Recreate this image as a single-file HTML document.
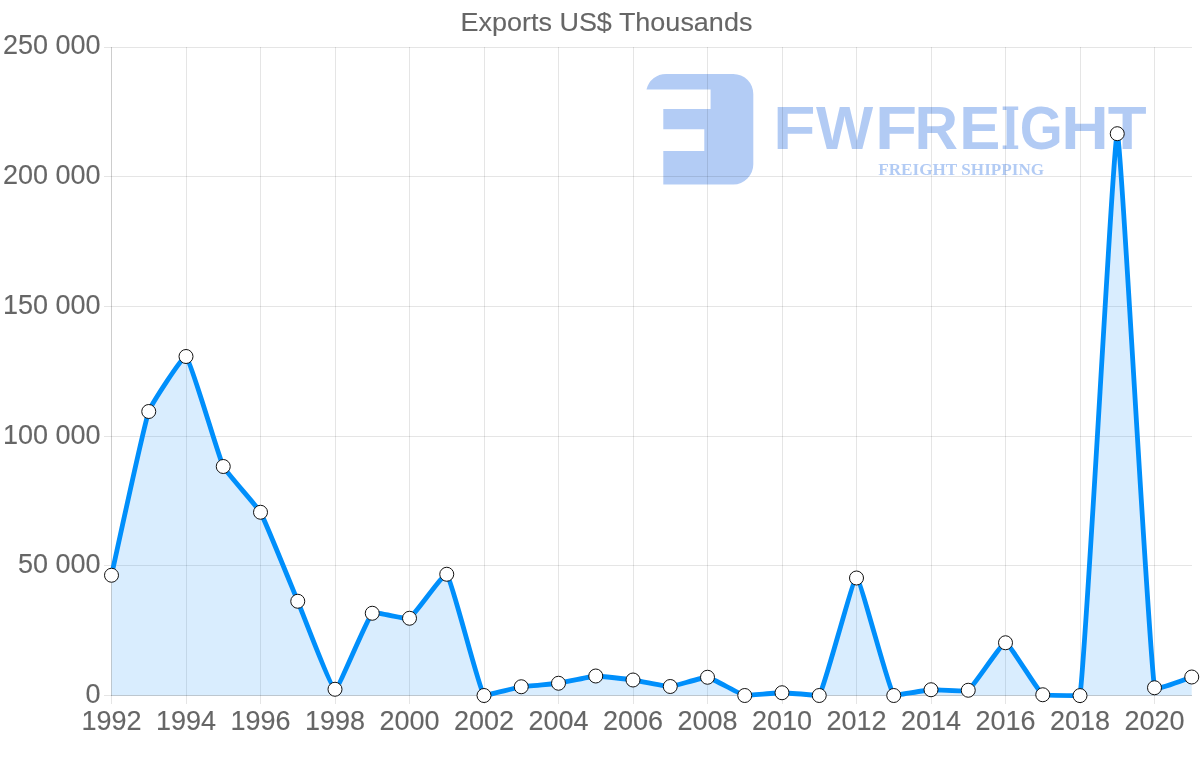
<!DOCTYPE html>
<html lang="en"><head><meta charset="utf-8"><title>Exports US$ Thousands</title>
<style>
html,body{margin:0;padding:0;background:#fff;}
body{width:1200px;height:763px;overflow:hidden;font-family:"Liberation Sans",Arial,sans-serif;}
svg{display:block;}
.lbl{font-family:"Liberation Sans",Arial,sans-serif;font-size:27px;fill:#666;stroke:#666;stroke-width:0.12px;}
.logo{font-family:"Liberation Sans",Arial,sans-serif;font-weight:bold;font-size:100px;}
.sub{font-family:"Liberation Serif","Times New Roman",serif;font-weight:bold;font-size:18px;}
</style></head><body>
<svg width="1200" height="763" viewBox="0 0 1200 763">
<rect width="1200" height="763" fill="#fff"/>

<g fill="#3878e4" opacity="0.38">
<path d="M646.5,89.5 A20,20 0 0 1 666,74 H733.3 A20,20 0 0 1 753.3,94 V164.4 A20,20 0 0 1 733.3,184.4 H663.3 V151.1 H704.3 V129.3 H663.3 V109 H710.6 V89.5 Z"/>
<text class="logo" y="149.00" style="font-size:61.19px"><tspan x="773.09" textLength="42.56" lengthAdjust="spacingAndGlyphs">F</tspan><tspan x="815.94" textLength="57.22" lengthAdjust="spacingAndGlyphs">W</tspan><tspan x="874.98" textLength="42.14" lengthAdjust="spacingAndGlyphs">F</tspan><tspan x="914.46" textLength="43.57" lengthAdjust="spacingAndGlyphs">R</tspan><tspan x="959.37" textLength="41.13" lengthAdjust="spacingAndGlyphs">E</tspan><tspan style="font-family:'DejaVu Serif','Liberation Serif',serif;font-size:57.75px" x="1000.66" textLength="19.33" lengthAdjust="spacingAndGlyphs">I</tspan><tspan x="1019.63" textLength="42.99" lengthAdjust="spacingAndGlyphs">G</tspan><tspan x="1061.20" textLength="47.54" lengthAdjust="spacingAndGlyphs">H</tspan><tspan x="1107.78" textLength="38.90" lengthAdjust="spacingAndGlyphs">T</tspan></text>
<text class="sub" transform="matrix(0.9536 0 0 0.98 878.21 174.7)">FREIGHT SHIPPING</text>
</g>
<g stroke="rgba(0,0,0,0.1)" stroke-width="1" fill="none">
<line x1="111.50" y1="47.00" x2="111.50" y2="704.00"/>
<line x1="186.50" y1="47.00" x2="186.50" y2="704.00"/>
<line x1="260.50" y1="47.00" x2="260.50" y2="704.00"/>
<line x1="335.50" y1="47.00" x2="335.50" y2="704.00"/>
<line x1="409.50" y1="47.00" x2="409.50" y2="704.00"/>
<line x1="484.50" y1="47.00" x2="484.50" y2="704.00"/>
<line x1="558.50" y1="47.00" x2="558.50" y2="704.00"/>
<line x1="633.50" y1="47.00" x2="633.50" y2="704.00"/>
<line x1="707.50" y1="47.00" x2="707.50" y2="704.00"/>
<line x1="782.50" y1="47.00" x2="782.50" y2="704.00"/>
<line x1="856.50" y1="47.00" x2="856.50" y2="704.00"/>
<line x1="931.50" y1="47.00" x2="931.50" y2="704.00"/>
<line x1="1005.50" y1="47.00" x2="1005.50" y2="704.00"/>
<line x1="1080.50" y1="47.00" x2="1080.50" y2="704.00"/>
<line x1="1154.50" y1="47.00" x2="1154.50" y2="704.00"/>
<line x1="104.00" y1="695.50" x2="1192.00" y2="695.50"/>
<line x1="104.00" y1="565.50" x2="1192.00" y2="565.50"/>
<line x1="104.00" y1="436.50" x2="1192.00" y2="436.50"/>
<line x1="104.00" y1="306.50" x2="1192.00" y2="306.50"/>
<line x1="104.00" y1="176.50" x2="1192.00" y2="176.50"/>
<line x1="104.00" y1="47.50" x2="1192.00" y2="47.50"/>
<line x1="111.5" y1="47" x2="111.5" y2="696"/>
<line x1="111" y1="695.5" x2="1192" y2="695.5"/>
</g>
<path d="M111.50,575.25 C115.22,558.88 143.41,427.17 148.75,411.50 C150.86,405.30 183.29,354.50 186.00,356.50 C190.74,360.00 218.31,456.17 223.25,466.50 C225.76,471.75 257.67,507.14 260.50,512.25 C265.12,520.61 294.01,592.36 297.75,601.25 C301.46,610.06 331.05,688.61 335.00,689.25 C338.50,689.81 367.09,618.17 372.25,613.25 C374.54,611.07 406.56,619.79 409.50,618.25 C414.01,615.89 444.42,571.84 446.75,574.25 C451.87,579.56 478.28,686.86 484.00,695.50 C485.73,695.50 517.48,687.37 521.25,686.75 C524.93,686.14 554.80,683.78 558.50,683.25 C562.25,682.71 592.00,676.16 595.75,676.00 C599.45,675.84 629.29,679.48 633.00,680.00 C636.74,680.53 666.55,686.64 670.25,686.50 C674.00,686.36 703.92,676.82 707.50,677.25 C711.37,677.72 740.83,694.68 744.75,695.50 C748.28,695.50 778.27,692.75 782.00,692.75 C785.73,692.75 817.52,695.50 819.25,695.50 C824.97,686.69 852.77,578.00 856.50,578.00 C860.23,578.00 888.04,686.94 893.75,695.50 C895.49,695.50 927.25,690.01 931.00,689.75 C934.70,689.49 965.41,692.04 968.25,690.25 C972.86,687.34 1001.88,642.53 1005.50,642.75 C1009.33,642.98 1038.04,691.41 1042.75,694.75 C1045.49,695.50 1079.54,695.50 1080.00,695.60 C1086.99,642.98 1113.50,134.10 1117.25,133.70 C1120.95,133.31 1147.54,636.97 1154.50,687.75 C1154.99,691.30 1188.03,678.08 1191.75,677.00 L1191.75,695.5 L111.50,695.5 Z" fill="#0087fb" fill-opacity="0.15"/>
<path d="M111.50,575.25 C115.22,558.88 143.41,427.17 148.75,411.50 C150.86,405.30 183.29,354.50 186.00,356.50 C190.74,360.00 218.31,456.17 223.25,466.50 C225.76,471.75 257.67,507.14 260.50,512.25 C265.12,520.61 294.01,592.36 297.75,601.25 C301.46,610.06 331.05,688.61 335.00,689.25 C338.50,689.81 367.09,618.17 372.25,613.25 C374.54,611.07 406.56,619.79 409.50,618.25 C414.01,615.89 444.42,571.84 446.75,574.25 C451.87,579.56 478.28,686.86 484.00,695.50 C485.73,695.50 517.48,687.37 521.25,686.75 C524.93,686.14 554.80,683.78 558.50,683.25 C562.25,682.71 592.00,676.16 595.75,676.00 C599.45,675.84 629.29,679.48 633.00,680.00 C636.74,680.53 666.55,686.64 670.25,686.50 C674.00,686.36 703.92,676.82 707.50,677.25 C711.37,677.72 740.83,694.68 744.75,695.50 C748.28,695.50 778.27,692.75 782.00,692.75 C785.73,692.75 817.52,695.50 819.25,695.50 C824.97,686.69 852.77,578.00 856.50,578.00 C860.23,578.00 888.04,686.94 893.75,695.50 C895.49,695.50 927.25,690.01 931.00,689.75 C934.70,689.49 965.41,692.04 968.25,690.25 C972.86,687.34 1001.88,642.53 1005.50,642.75 C1009.33,642.98 1038.04,691.41 1042.75,694.75 C1045.49,695.50 1079.54,695.50 1080.00,695.60 C1086.99,642.98 1113.50,134.10 1117.25,133.70 C1120.95,133.31 1147.54,636.97 1154.50,687.75 C1154.99,691.30 1188.03,678.08 1191.75,677.00" fill="none" stroke="#008ffb" stroke-width="4.8" stroke-linejoin="miter" stroke-linecap="butt"/>
<g fill="#fff" stroke="#111" stroke-width="1">
<circle cx="111.50" cy="575.25" r="7"/>
<circle cx="148.75" cy="411.50" r="7"/>
<circle cx="186.00" cy="356.50" r="7"/>
<circle cx="223.25" cy="466.50" r="7"/>
<circle cx="260.50" cy="512.25" r="7"/>
<circle cx="297.75" cy="601.25" r="7"/>
<circle cx="335.00" cy="689.25" r="7"/>
<circle cx="372.25" cy="613.25" r="7"/>
<circle cx="409.50" cy="618.25" r="7"/>
<circle cx="446.75" cy="574.25" r="7"/>
<circle cx="484.00" cy="695.50" r="7"/>
<circle cx="521.25" cy="686.75" r="7"/>
<circle cx="558.50" cy="683.25" r="7"/>
<circle cx="595.75" cy="676.00" r="7"/>
<circle cx="633.00" cy="680.00" r="7"/>
<circle cx="670.25" cy="686.50" r="7"/>
<circle cx="707.50" cy="677.25" r="7"/>
<circle cx="744.75" cy="695.50" r="7"/>
<circle cx="782.00" cy="692.75" r="7"/>
<circle cx="819.25" cy="695.50" r="7"/>
<circle cx="856.50" cy="578.00" r="7"/>
<circle cx="893.75" cy="695.50" r="7"/>
<circle cx="931.00" cy="689.75" r="7"/>
<circle cx="968.25" cy="690.25" r="7"/>
<circle cx="1005.50" cy="642.75" r="7"/>
<circle cx="1042.75" cy="694.75" r="7"/>
<circle cx="1080.00" cy="695.60" r="7"/>
<circle cx="1117.25" cy="133.70" r="7"/>
<circle cx="1154.50" cy="687.75" r="7"/>
<circle cx="1191.75" cy="677.00" r="7"/>
</g>
<g class="lbl" text-anchor="end">
<text x="100.6" y="702.75">0</text>
<text x="100.6" y="573.00">50 000</text>
<text x="100.6" y="443.75">100 000</text>
<text x="100.6" y="313.75">150 000</text>
<text x="100.6" y="183.75">200 000</text>
<text x="100.6" y="53.75">250 000</text>
</g>
<g class="lbl" text-anchor="middle">
<text x="111.50" y="730">1992</text>
<text x="186.00" y="730">1994</text>
<text x="260.50" y="730">1996</text>
<text x="335.00" y="730">1998</text>
<text x="409.50" y="730">2000</text>
<text x="484.00" y="730">2002</text>
<text x="558.50" y="730">2004</text>
<text x="633.00" y="730">2006</text>
<text x="707.50" y="730">2008</text>
<text x="782.00" y="730">2010</text>
<text x="856.50" y="730">2012</text>
<text x="931.00" y="730">2014</text>
<text x="1005.50" y="730">2016</text>
<text x="1080.00" y="730">2018</text>
<text x="1154.50" y="730">2020</text>
</g>
<text class="lbl" text-anchor="middle" transform="matrix(1 0 0 0.97 606.4 30.6)">Exports US$ Thousands</text>
</svg></body></html>
